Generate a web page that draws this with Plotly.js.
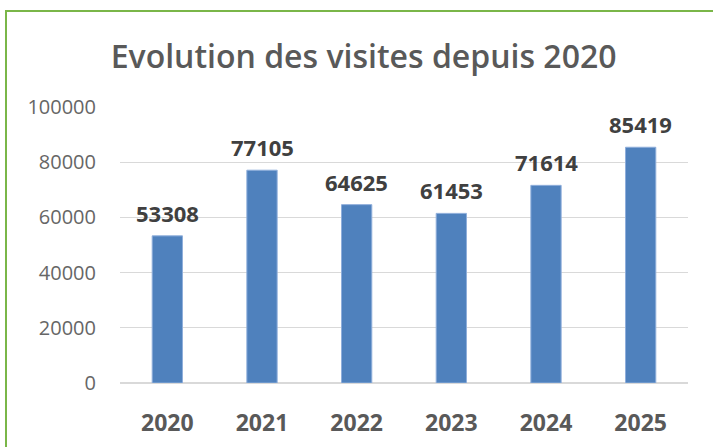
<!DOCTYPE html>
<html><head><meta charset="utf-8">
<script src="https://cdn.plot.ly/plotly-3.0.1.min.js"></script>
<style>
html,body{margin:0;padding:0;background:#fff;overflow:hidden;}
#chart{width:713px;height:447px;}
#frame{position:absolute;left:5px;top:10px;width:730px;height:460px;border:2px solid #7AB648;pointer-events:none;box-sizing:border-box;}
</style></head>
<body>
<div id="chart"></div>
<div id="frame"></div>
<script>
const years = ['2020','2021','2022','2023','2024','2025'];
const visits = [53308, 77105, 64625, 61453, 71614, 85419];
const yTicks = [0, 20000, 40000, 60000, 80000, 100000];

const trace = {
  type: 'bar', x: years, y: visits,
  marker: {color: '#4F81BD', line: {color: '#8FAEDB', width: 1}},
  hoverinfo: 'x+y'
};
const annotations = years.map((yr, i) => ({
  x: i, y: visits[i], xref: 'x', yref: 'y', text: String(visits[i]),
  showarrow: false, yanchor: 'bottom', yshift: 6,
  font: {family: 'Open Sans, sans-serif', size: 22, color: '#404040', weight: 700}
}));
const layout = {
  width: 713, height: 447,
  margin: {l: 120, r: 25, t: 107, b: 64},
  paper_bgcolor: '#fff', plot_bgcolor: '#fff',
  showlegend: false, bargap: 0.68,
  title: {text: 'Evolution des visites depuis 2020', x: 0.51, xanchor: 'center', y: 0.872, yanchor: 'middle',
    font: {family: 'Open Sans, sans-serif', size: 32, color: '#595959', weight: 600}},
  xaxis: {type: 'category', categoryorder: 'array', categoryarray: years, range: [-0.5, 5.5],
    showgrid: false, zeroline: false, showline: false, ticks: '',
    ticklabelstandoff: 24,
    tickfont: {family: 'Open Sans, sans-serif', size: 23, color: '#595959', weight: 700}},
  yaxis: {range: [0, 100000], tickvals: yTicks, ticktext: yTicks.map(String),
    showgrid: true, gridcolor: '#D9D9D9', gridwidth: 1, zeroline: true, zerolinecolor: '#D9D9D9', zerolinewidth: 2,
    showline: false, ticks: '', ticklabelstandoff: 23,
    tickfont: {family: 'Open Sans, sans-serif', size: 20, color: '#666666'}},
  annotations: annotations
};
Plotly.newPlot('chart', [trace], layout, {displayModeBar: false, staticPlot: true});
</script>
</body></html>
